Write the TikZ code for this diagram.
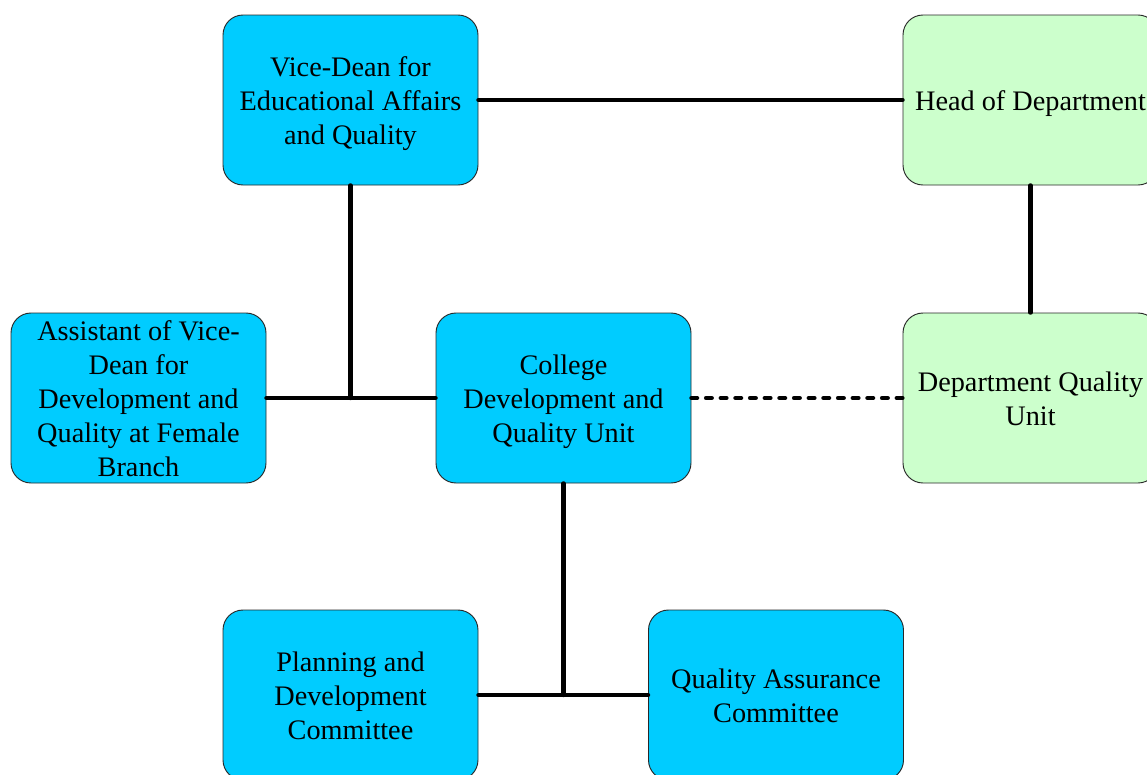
\documentclass[tikz,border=0pt]{standalone}
\usepackage{fontspec}
\setmainfont{Liberation Serif}
\newfontfamily\boxfont{Liberation Serif}
\definecolor{unitblue}{RGB}{0,204,255}
\definecolor{deptgreen}{RGB}{204,255,204}
\definecolor{boxedge}{RGB}{40,40,40}
% centred lines, each with a full-height strut, set slightly low in the box
\newcommand{\boxlines}[1]{\raisebox{-2.6pt}[\height][\depth]{\begin{tabular}{@{}c@{}}#1\end{tabular}}}
\tikzset{
  orgbox/.style={draw=boxedge, line width=0.7pt, rounded corners=15pt,
    minimum width=191.25pt, minimum height=127.5pt, inner sep=0pt,
    font=\boxfont\fontsize{21.2}{25.5}\selectfont},
  bluebox/.style={orgbox, fill=unitblue},
  greenbox/.style={orgbox, fill=deptgreen},
  link/.style={line width=3.3pt, line cap=round},
  dotlink/.style={line width=3.3pt, line cap=round, dash pattern=on 4.2pt off 6.8pt}
}
\begin{document}
\begin{tikzpicture}[x=0.75pt,y=-0.75pt]
\useasboundingbox (0,0) rectangle (1147,775);
\clip (0,0) rectangle (1147,775);

\node[bluebox] (vd) at (350.5,100) {\boxlines{Vice-Dean for\\Educational Affairs\\and Quality}};
\node[greenbox] (hod) at (1030.5,100) {\boxlines{Head of Department}};
\node[bluebox] (asst) at (138.5,398) {\boxlines{Assistant of Vice-\\Dean for\\Development and\\Quality at Female\\Branch}};
\node[bluebox] (cdu) at (563.5,398) {\boxlines{College\\Development and\\Quality Unit}};
\node[greenbox] (dqu) at (1030.5,398) {\boxlines{Department Quality\\Unit}};
\node[bluebox] (pdc) at (350.5,695) {\boxlines{Planning and\\Development\\Committee}};
\node[bluebox] (qac) at (776,695) {\boxlines{Quality Assurance\\Committee}};

\draw[link] (vd.east) -- (hod.west);
\draw[link] (hod.south) -- (dqu.north);
\draw[link] (vd.south) -- (vd.south |- cdu.west);
\draw[link] (asst.east) -- (cdu.west);
\draw[dotlink] (cdu.east) -- (dqu.west);
\draw[link] (cdu.south) -- (cdu.south |- pdc.east);
\draw[link] (pdc.east) -- (qac.west);
\end{tikzpicture}
\end{document}
